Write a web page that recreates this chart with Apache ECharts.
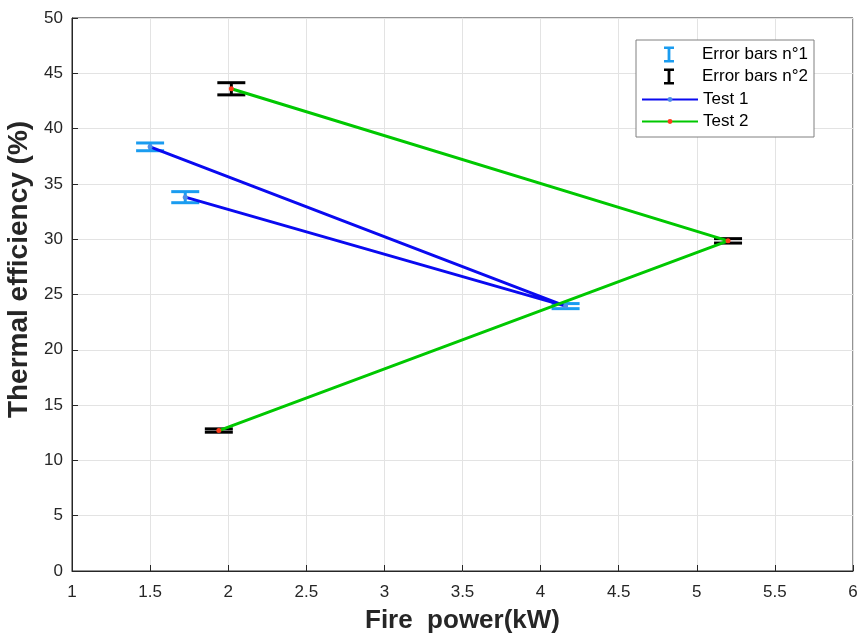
<!DOCTYPE html>
<html>
<head>
<meta charset="utf-8">
<script src="https://cdn.jsdelivr.net/npm/echarts@6/dist/echarts.min.js"></script>
<style>html,body{margin:0;padding:0;background:#fff;}#c{width:858px;height:634px;}</style>
</head>
<body>
<div id="c"></div>
<script>
// Test 1 data
const test1X = [1.50, 4.16, 1.725];
const test1Y = [38.35, 23.95, 33.8];
const test1Err = [0.35, 0.23, 0.5];
// Test 2 data
const test2X = [2.02, 5.20, 1.94];
const test2Y = [43.6, 29.85, 12.7];
const test2Err = [0.55, 0.2, 0.15];
// Axis ticks
const xTicks = [1, 1.5, 2, 2.5, 3, 3.5, 4, 4.5, 5, 5.5, 6];
const yTicks = [0, 5, 10, 15, 20, 25, 30, 35, 40, 45, 50];

const FONT = 'Liberation Sans, Arial, Helvetica, sans-serif';
const C_ERR1 = '#1a9cf0', C_ERR2 = '#000000';
const C_T1 = '#0a0af0', C_T2 = '#00c800';
const C_M1 = '#4f8ee8', C_M2 = '#ff3a1a';
// I-beam glyph centred in a 56x16 box (tiny corner specks fix the box size)
const IBEAM = 'path://M0,8H0.01V8.01H0Z M55.99,8H56V8.01H55.99Z ' +
  'M23,0H33V2.6H29.4V13.4H33V16H23V13.4H26.6V2.6H23Z';

function errRender(color) {
  return function (params, api) {
    const x = api.value(0), y = api.value(1), e = api.value(2);
    const hi = api.coord([x, y + e]);
    const lo = api.coord([x, y - e]);
    const hw = 14;
    const st = { stroke: color, lineWidth: 3, fill: null };
    return {
      type: 'group',
      children: [
        { type: 'line', shape: { x1: hi[0], y1: hi[1], x2: lo[0], y2: lo[1] }, style: st },
        { type: 'line', shape: { x1: hi[0] - hw, y1: hi[1], x2: hi[0] + hw, y2: hi[1] }, style: st },
        { type: 'line', shape: { x1: lo[0] - hw, y1: lo[1], x2: lo[0] + hw, y2: lo[1] }, style: st }
      ]
    };
  };
}

const zip2 = (a, b) => a.map((v, i) => [v, b[i]]);
const zip3 = (a, b, c) => a.map((v, i) => [v, b[i], c[i]]);

const chart = echarts.init(document.getElementById('c'), null, { renderer: 'canvas' });
chart.setOption({
  animation: false,
  backgroundColor: '#ffffff',
  grid: {
    left: 72, right: 5, top: 18, bottom: 63,
    containLabel: false, outerBoundsMode: 'none',
    show: true, borderColor: '#262626', borderWidth: 1, backgroundColor: '#fff'
  },
  legend: [
    {
      data: [{ name: 'Error bars n°1', icon: IBEAM }, { name: 'Error bars n°2', icon: IBEAM }],
      orient: 'vertical', left: 636, top: 40,
      itemWidth: 56, itemHeight: 16, itemGap: 5,
      padding: [6, 6, 52, 5],
      borderColor: '#808080', borderWidth: 1, backgroundColor: '#fff',
      textStyle: { fontFamily: FONT, fontSize: 17, color: '#000' },
      selectedMode: false, z: 4
    },
    {
      data: ['Test 1', 'Test 2'],
      orient: 'vertical', left: 636, top: 91,
      itemWidth: 56, itemHeight: 6, itemGap: 5,
      padding: [0, 6, 0, 5],
      textStyle: { fontFamily: FONT, fontSize: 17, color: '#000' },
      selectedMode: false, z: 5
    }
  ],
  xAxis: {
    type: 'value', min: xTicks[0], max: xTicks[xTicks.length - 1], interval: 0.5,
    name: 'Fire  power(kW)', nameLocation: 'middle', nameGap: 37,
    nameTextStyle: { fontFamily: FONT, fontSize: 26, fontWeight: 'bold', color: '#262626' },
    axisLine: { show: true, lineStyle: { color: '#262626', width: 1 } },
    axisTick: { show: true, inside: true, length: 6, lineStyle: { color: '#262626' } },
    axisLabel: { fontFamily: FONT, fontSize: 17, color: '#262626', margin: 13 },
    splitLine: { show: true, lineStyle: { color: '#e3e3e3', width: 1 } }
  },
  yAxis: {
    type: 'value', min: yTicks[0], max: yTicks[yTicks.length - 1], interval: 5,
    name: 'Thermal efficiency (%)', nameLocation: 'middle', nameGap: 27,
    nameTextStyle: { fontFamily: FONT, fontSize: 28, fontWeight: 'bold', color: '#262626', padding: [0, 0, 0, 50] },
    axisLine: { show: true, lineStyle: { color: '#262626', width: 1 } },
    axisTick: { show: true, inside: true, length: 6, lineStyle: { color: '#262626' } },
    axisLabel: { fontFamily: FONT, fontSize: 17, color: '#262626', margin: 9 },
    splitLine: { show: true, lineStyle: { color: '#e3e3e3', width: 1 } }
  },
  series: [
    {
      name: 'Error bars n°1', type: 'custom', z: 2,
      itemStyle: { color: C_ERR1 },
      renderItem: errRender(C_ERR1),
      encode: { x: 0, y: 1 },
      data: zip3(test1X, test1Y, test1Err)
    },
    {
      name: 'Error bars n°2', type: 'custom', z: 2,
      itemStyle: { color: C_ERR2 },
      renderItem: errRender(C_ERR2),
      encode: { x: 0, y: 1 },
      data: zip3(test2X, test2Y, test2Err)
    },
    {
      name: 'Test 1', type: 'line', z: 3,
      symbol: 'circle', symbolSize: 5, showSymbol: true,
      lineStyle: { color: C_T1, width: 3 },
      itemStyle: { color: C_M1 },
      data: zip2(test1X, test1Y)
    },
    {
      name: 'Test 2', type: 'line', z: 3,
      symbol: 'circle', symbolSize: 5, showSymbol: true,
      lineStyle: { color: C_T2, width: 3 },
      itemStyle: { color: C_M2 },
      data: zip2(test2X, test2Y)
    }
  ]
});
</script>
</body>
</html>
